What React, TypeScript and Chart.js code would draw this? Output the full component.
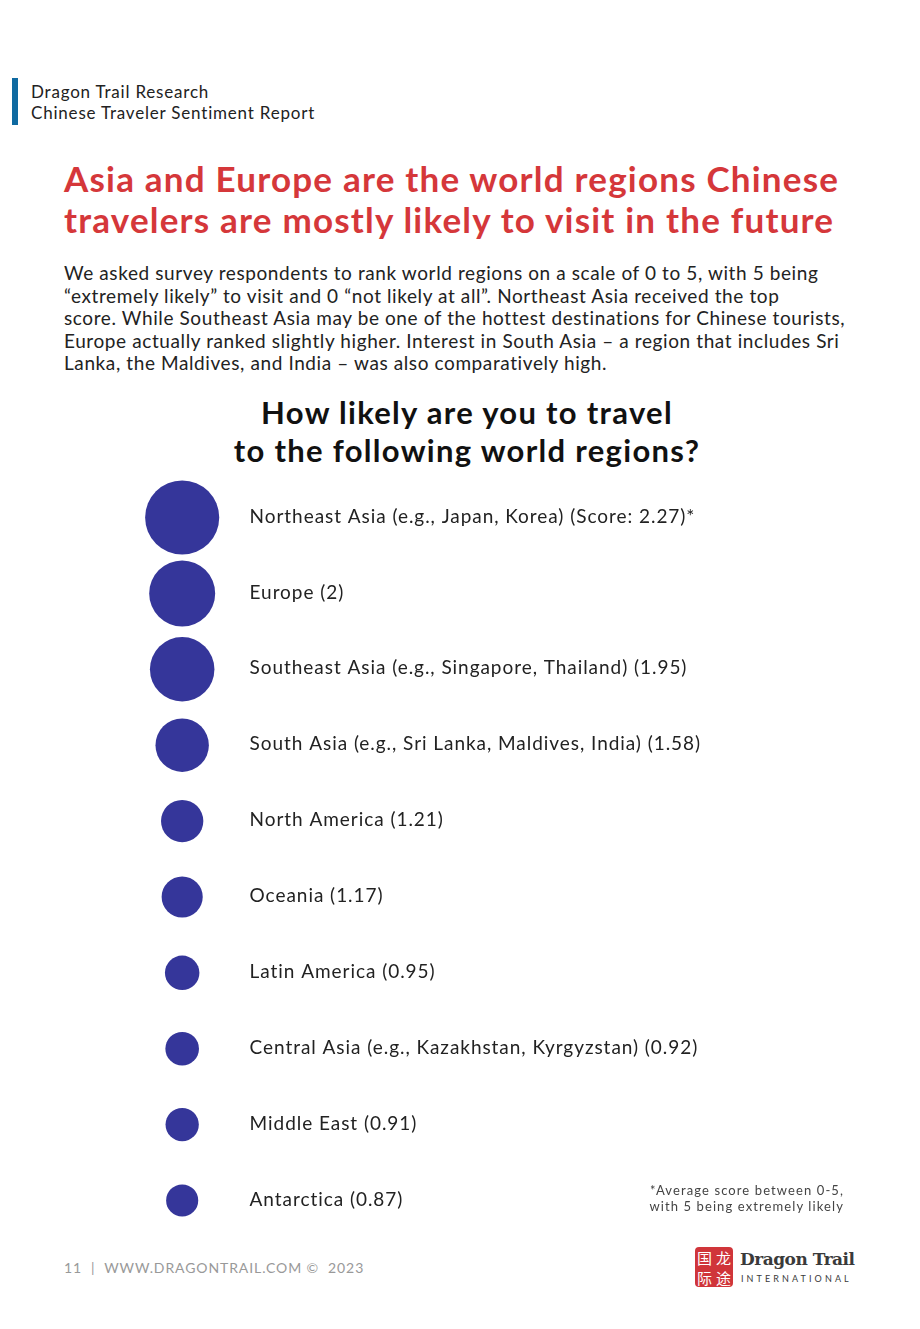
import React, { useEffect, useRef } from "react";
import { Chart, registerables } from "chart.js";

Chart.register(...registerables);

const regions = [
  "Northeast Asia (e.g., Japan, Korea) (Score: 2.27)*",
  "Europe (2)",
  "Southeast Asia (e.g., Singapore, Thailand) (1.95)",
  "South Asia (e.g., Sri Lanka, Maldives, India) (1.58)",
  "North America (1.21)",
  "Oceania (1.17)",
  "Latin America (0.95)",
  "Central Asia (e.g., Kazakhstan, Kyrgyzstan) (0.92)",
  "Middle East (0.91)",
  "Antarctica (0.87)",
];
const scores = [2.27, 2, 1.95, 1.58, 1.21, 1.17, 0.95, 0.92, 0.91, 0.87];

const FONT = "'Lato', 'Open Sans', sans-serif";

const labelPlugin = {
  id: "regionLabels",
  afterDatasetsDraw(chart: any) {
    const ctx = chart.ctx;
    const xs = chart.scales.x;
    const ys = chart.scales.y;
    ctx.save();
    ctx.fillStyle = "#222222";
    ctx.font = `19px ${FONT}`;
    (ctx as any).letterSpacing = "0.95px";
    ctx.textBaseline = "middle";
    ctx.textAlign = "left";
    regions.forEach((r, i) => {
      ctx.fillText(r, xs.getPixelForValue(0.37), ys.getPixelForValue(i) - 1);
    });
    ctx.restore();
  },
};

function BubbleChart() {
  const ref = useRef<HTMLCanvasElement | null>(null);
  useEffect(() => {
    if (!ref.current) return;
    const chart = new Chart(ref.current, {
      type: "bubble",
      data: {
        datasets: [
          {
            data: scores.map((s, i) => ({ x: 0, y: i, r: 3 + 15 * s })),
            backgroundColor: "#35369a",
            borderWidth: 0,
            clip: false as any,
          },
        ],
      },
      options: {
        animation: false,
        responsive: false,
        maintainAspectRatio: false,
        layout: { padding: 0, autoPadding: false } as any,
        plugins: { legend: { display: false }, tooltip: { enabled: false } },
        scales: {
          x: { type: "linear", min: -1, max: 4.05, display: false },
          y: { type: "linear", min: -0.6, max: 9.6, reverse: true, display: false },
        },
      },
      plugins: [labelPlugin],
    });
    return () => chart.destroy();
  }, []);
  return (
    <canvas
      ref={ref}
      width={920}
      height={774}
      style={{ position: "absolute", left: 0, top: 472, width: 920, height: 774 }}
    />
  );
}

export default function App() {
  useEffect(() => {
    document.body.style.margin = "0";
  }, []);
  const abs = (s: React.CSSProperties): React.CSSProperties => ({ position: "absolute", ...s });
  return (
    <div style={{ position: "relative", width: 920, height: 1329, background: "#ffffff", fontFamily: FONT, overflow: "hidden" }}>
      <div style={abs({ left: 12, top: 78, width: 6, height: 47, background: "#0f6aa1" })} />
      <div style={abs({ left: 31, top: 81, fontSize: 17, lineHeight: "21px", letterSpacing: 0.8, color: "#222", whiteSpace: "nowrap" })}>
        Dragon Trail Research
        <br />
        Chinese Traveler Sentiment Report
      </div>
      <div style={abs({ left: 64, top: 158, fontSize: 35, lineHeight: "41px", letterSpacing: 1.2, fontWeight: 700, color: "#d5373a", whiteSpace: "nowrap" })}>
        Asia and Europe are the world regions Chinese
        <br />
        travelers are mostly likely to visit in the future
      </div>
      <div style={abs({ left: 64, top: 262, fontSize: 19, lineHeight: "22.5px", letterSpacing: 0.6, color: "#222", whiteSpace: "nowrap" })}>
        We asked survey respondents to rank world regions on a scale of 0 to 5, with 5 being
        <br />
        “extremely likely” to visit and 0 “not likely at all”. Northeast Asia received the top
        <br />
        score. While Southeast Asia may be one of the hottest destinations for Chinese tourists,
        <br />
        Europe actually ranked slightly higher. Interest in South Asia – a region that includes Sri
        <br />
        Lanka, the Maldives, and India – was also comparatively high.
      </div>
      <div style={abs({ left: 117, top: 393, width: 700, textAlign: "center", fontSize: 31, lineHeight: "38px", letterSpacing: 1.3, fontWeight: 700, color: "#111" })}>
        How likely are you to travel
        <br />
        to the following world regions?
      </div>
      <BubbleChart />
      <div style={abs({ left: 494, top: 1182, width: 350, textAlign: "right", fontSize: 13, lineHeight: "16px", letterSpacing: 1.1, color: "#444", whiteSpace: "nowrap" })}>
        *Average score between 0-5,
        <br />
        with 5 being extremely likely
      </div>
      <div style={abs({ left: 64, top: 1259, fontSize: 14, letterSpacing: 0.9, color: "#999", whiteSpace: "pre" })}>
        {"11  |  WWW.DRAGONTRAIL.COM ©  2023"}
      </div>
      <div
        style={abs({
          left: 695,
          top: 1247,
          width: 38,
          height: 40,
          background: "#d0353a",
          borderRadius: 4,
          display: "grid",
          gridTemplateColumns: "1fr 1fr",
          color: "#fff",
          fontSize: 15,
          lineHeight: "19px",
          textAlign: "center",
          fontFamily: "'Noto Sans CJK SC', sans-serif",
          paddingTop: 1,
          boxSizing: "border-box",
        })}
      >
        <span>国</span>
        <span>龙</span>
        <span>际</span>
        <span>途</span>
      </div>
      <div style={abs({ left: 740, top: 1249, fontSize: 17, fontWeight: 700, color: "#3a3a3a", fontFamily: "'DejaVu Serif', serif", letterSpacing: -0.5, whiteSpace: "nowrap" })}>
        Dragon Trail
      </div>
      <div style={abs({ left: 741, top: 1273, fontSize: 9, letterSpacing: 3.1, color: "#3a3a3a", whiteSpace: "nowrap" })}>
        INTERNATIONAL
      </div>
    </div>
  );
}
